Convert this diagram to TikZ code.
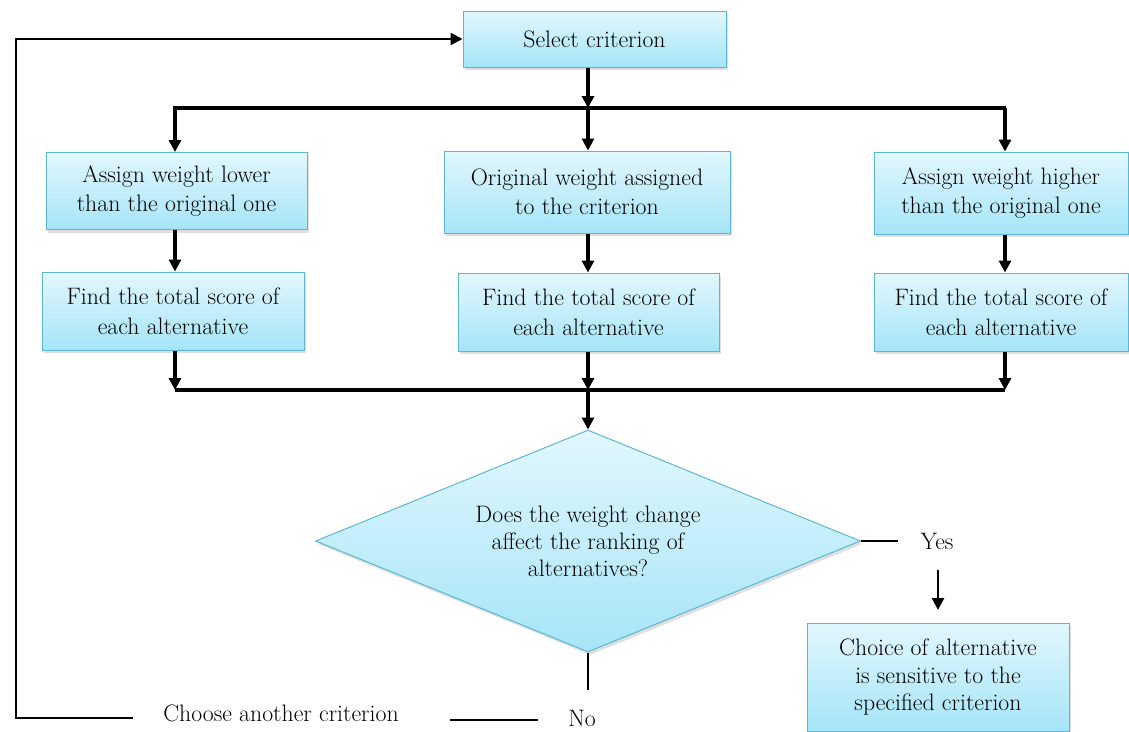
\documentclass[tikz,border=0pt]{standalone}
\usetikzlibrary{shapes.geometric,arrows.meta,shadows}
\definecolor{boxtop}{HTML}{E2F7FD}
\definecolor{boxbot}{HTML}{A5E5F8}
\definecolor{boxline}{HTML}{5DB6CF}
\definecolor{txt}{HTML}{000000}
\tikzset{
  x=1pt,y=-1pt,
  every node/.style={font=\rmfamily\fontsize{23.8}{29.5}\selectfont, text=txt},
  proc/.style={draw=boxline, line width=1pt, top color=boxtop, bottom color=boxbot,
    align=center, inner sep=0pt,
    drop shadow={opacity=0.25, shadow xshift=2pt, shadow yshift=-3pt}},
  decide/.style={diamond, draw=boxline, line width=1pt, top color=boxtop, bottom color=boxbot,
    align=center, inner sep=0pt, aspect=2.45, minimum width=545pt, minimum height=222pt,
    drop shadow={opacity=0.25, shadow xshift=2pt, shadow yshift=-3pt}},
  arr/.style={line width=3.5pt, -{Triangle[width=12pt,length=12pt]}},
  ln/.style={line width=3.5pt},
  thin ln/.style={line width=2.6pt},
  thin arr/.style={line width=2.6pt, -{Triangle[width=12pt,length=12pt]}},
  lbl/.style={inner sep=0pt, anchor=base},
}
\begin{document}
\begin{tikzpicture}
\useasboundingbox (0,0) rectangle (1129,731);
% nodes
\node[proc, minimum width=263pt, minimum height=56pt] (sel) at (594.5,39) {Select criterion};
\node[proc, minimum width=261pt, minimum height=77pt] (a1) at (176.5,191) {Assign weight lower\\than the original one};
\node[proc, minimum width=286pt, minimum height=82pt] (a2) at (587,192) {Original weight assigned\\to the criterion};
\node[proc, minimum width=254pt, minimum height=82pt] (a3) at (1001,193) {Assign weight higher\\than the original one};
\node[proc, minimum width=262pt, minimum height=78pt] (f1) at (173,311) {Find the total score of\\each alternative};
\node[proc, minimum width=261pt, minimum height=78pt] (f2) at (588.5,312) {Find the total score of\\each alternative};
\node[proc, minimum width=254pt, minimum height=78pt] (f3) at (1001,312) {Find the total score of\\each alternative};
\node[decide, font=\rmfamily\fontsize{23.8}{27}\selectfont] (dec) at (588,541) {Does the weight change\\affect the ranking of\\alternatives?};
\node[proc, minimum width=262pt, minimum height=108pt, font=\rmfamily\fontsize{23.8}{27.5}\selectfont] (ch) at (938,677) {Choice of alternative\\is sensitive to the\\specified criterion};
\node[lbl] (yes) at (937,549) {Yes};
\node[lbl] (no) at (582,726) {No};
\node[lbl] (cho) at (281,721) {Choose another criterion};
% coordinates
\coordinate (busT) at (588,108);
\coordinate (busTL) at (173,108);
\coordinate (busTR) at (1006,108);
\coordinate (busB) at (588,390);
\coordinate (busBL) at (175,390);
\coordinate (busBR) at (1005,390);
\coordinate (yesEnd) at (898,541);
\coordinate (yesA) at (938,570);
\coordinate (yesB) at (938,610);
\coordinate (noEnd) at (588,690);
\coordinate (noL1) at (538,720);
\coordinate (noL2) at (450,720);
\coordinate (choL) at (133,718);
\coordinate (corner) at (16,718);
% connectors
\draw[arr] (sel.south -| busT) -- (busT);
\draw[ln] (busTL) -- (busTR);
\draw[arr] (175,108) -- (a1.north -| 175,0);
\draw[arr] (busT) -- (a2.north -| busT);
\draw[arr] (1005,108) -- (a3.north -| 1005,0);
\draw[arr] (a1.south -| 175,0) -- (f1.north -| 175,0);
\draw[arr] (a2.south -| 588,0) -- (f2.north -| 588,0);
\draw[arr] (a3.south -| 1005,0) -- (f3.north -| 1005,0);
\draw[arr] (f1.south -| busBL) -- (busBL);
\draw[arr] (f2.south -| busB) -- (busB);
\draw[arr] (f3.south -| busBR) -- (busBR);
\draw[ln] (busBL) -- (busBR);
\draw[arr] (busB) -- (dec.north);
\draw[thin ln] (dec.east) -- (yesEnd);
\draw[thin arr] (yesA) -- (yesB);
\draw[thin ln] (dec.south) -- (noEnd);
\draw[thin ln] (noL1) -- (noL2);
\draw[thin arr] (choL) -- (corner) -- (16,39) -- (sel.west);
\end{tikzpicture}
\end{document}
